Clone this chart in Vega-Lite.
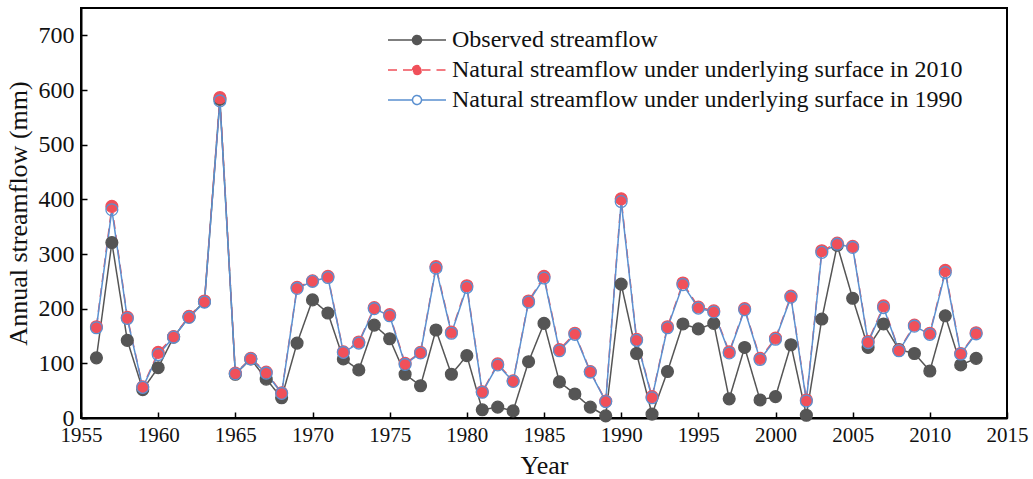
{
  "$schema": "https://vega.github.io/schema/vega-lite/v6.json",
  "width": 926,
  "height": 410,
  "autosize": {"type": "none"},
  "padding": {"left": 81, "top": 8, "right": 26, "bottom": 61},
  "background": "white",
  "config": {
    "view": {"stroke": "black", "strokeWidth": 2},
    "font": "Liberation Serif",
    "axis": {
      "labelFont": "Liberation Serif",
      "titleFont": "Liberation Serif",
      "labelColor": "#111",
      "titleColor": "#111",
      "titleFontSize": 26,
      "titleFontWeight": "normal",
      "domainColor": "black",
      "domainWidth": 2,
      "tickColor": "black",
      "tickWidth": 1.5,
      "tickSize": -6,
      "labelFlush": false,
      "grid": false
    },
    "legend": {
      "labelFont": "Liberation Serif",
      "labelFontSize": 24,
      "labelColor": "#111",
      "labelLimit": 0,
      "symbolStrokeWidth": 1.5,
      "symbolSize": 400,
      "rowPadding": 6,
      "labelOffset": 42,
      "padding": 0
    }
  },
  "data": {"values": [
    {"year":1956,"s":"obs","v":110},{"year":1957,"s":"obs","v":321},{"year":1958,"s":"obs","v":142},{"year":1959,"s":"obs","v":52},{"year":1960,"s":"obs","v":92},
    {"year":1961,"s":"obs","v":148},{"year":1962,"s":"obs","v":185},{"year":1963,"s":"obs","v":213},{"year":1964,"s":"obs","v":583},{"year":1965,"s":"obs","v":80},
    {"year":1966,"s":"obs","v":108},{"year":1967,"s":"obs","v":71},{"year":1968,"s":"obs","v":37},{"year":1969,"s":"obs","v":137},{"year":1970,"s":"obs","v":216},
    {"year":1971,"s":"obs","v":192},{"year":1972,"s":"obs","v":108},{"year":1973,"s":"obs","v":88},{"year":1974,"s":"obs","v":170},{"year":1975,"s":"obs","v":145},
    {"year":1976,"s":"obs","v":80},{"year":1977,"s":"obs","v":59},{"year":1978,"s":"obs","v":161},{"year":1979,"s":"obs","v":80},{"year":1980,"s":"obs","v":114},
    {"year":1981,"s":"obs","v":15},{"year":1982,"s":"obs","v":20},{"year":1983,"s":"obs","v":13},{"year":1984,"s":"obs","v":103},{"year":1985,"s":"obs","v":173},
    {"year":1986,"s":"obs","v":66},{"year":1987,"s":"obs","v":44},{"year":1988,"s":"obs","v":20},{"year":1989,"s":"obs","v":4},{"year":1990,"s":"obs","v":245},
    {"year":1991,"s":"obs","v":118},{"year":1992,"s":"obs","v":7},{"year":1993,"s":"obs","v":85},{"year":1994,"s":"obs","v":172},{"year":1995,"s":"obs","v":163},
    {"year":1996,"s":"obs","v":173},{"year":1997,"s":"obs","v":35},{"year":1998,"s":"obs","v":129},{"year":1999,"s":"obs","v":33},{"year":2000,"s":"obs","v":39},
    {"year":2001,"s":"obs","v":134},{"year":2002,"s":"obs","v":5},{"year":2003,"s":"obs","v":181},{"year":2004,"s":"obs","v":316},{"year":2005,"s":"obs","v":219},
    {"year":2006,"s":"obs","v":129},{"year":2007,"s":"obs","v":172},{"year":2008,"s":"obs","v":125},{"year":2009,"s":"obs","v":118},{"year":2010,"s":"obs","v":86},
    {"year":2011,"s":"obs","v":187},{"year":2012,"s":"obs","v":97},{"year":2013,"s":"obs","v":109},

    {"year":1956,"s":"n2010","v":167},{"year":1957,"s":"n2010","v":387},{"year":1958,"s":"n2010","v":184},{"year":1959,"s":"n2010","v":57},{"year":1960,"s":"n2010","v":120},
    {"year":1961,"s":"n2010","v":149},{"year":1962,"s":"n2010","v":186},{"year":1963,"s":"n2010","v":214},{"year":1964,"s":"n2010","v":586},{"year":1965,"s":"n2010","v":82},
    {"year":1966,"s":"n2010","v":109},{"year":1967,"s":"n2010","v":84},{"year":1968,"s":"n2010","v":46},{"year":1969,"s":"n2010","v":239},{"year":1970,"s":"n2010","v":251},
    {"year":1971,"s":"n2010","v":259},{"year":1972,"s":"n2010","v":121},{"year":1973,"s":"n2010","v":139},{"year":1974,"s":"n2010","v":202},{"year":1975,"s":"n2010","v":189},
    {"year":1976,"s":"n2010","v":100},{"year":1977,"s":"n2010","v":120},{"year":1978,"s":"n2010","v":277},{"year":1979,"s":"n2010","v":157},{"year":1980,"s":"n2010","v":242},
    {"year":1981,"s":"n2010","v":48},{"year":1982,"s":"n2010","v":99},{"year":1983,"s":"n2010","v":68},{"year":1984,"s":"n2010","v":214},{"year":1985,"s":"n2010","v":259},
    {"year":1986,"s":"n2010","v":125},{"year":1987,"s":"n2010","v":155},{"year":1988,"s":"n2010","v":85},{"year":1989,"s":"n2010","v":31},{"year":1990,"s":"n2010","v":401},
    {"year":1991,"s":"n2010","v":144},{"year":1992,"s":"n2010","v":39},{"year":1993,"s":"n2010","v":167},{"year":1994,"s":"n2010","v":247},{"year":1995,"s":"n2010","v":203},
    {"year":1996,"s":"n2010","v":196},{"year":1997,"s":"n2010","v":121},{"year":1998,"s":"n2010","v":200},{"year":1999,"s":"n2010","v":109},{"year":2000,"s":"n2010","v":146},
    {"year":2001,"s":"n2010","v":223},{"year":2002,"s":"n2010","v":33},{"year":2003,"s":"n2010","v":306},{"year":2004,"s":"n2010","v":320},{"year":2005,"s":"n2010","v":314},
    {"year":2006,"s":"n2010","v":140},{"year":2007,"s":"n2010","v":205},{"year":2008,"s":"n2010","v":124},{"year":2009,"s":"n2010","v":170},{"year":2010,"s":"n2010","v":155},
    {"year":2011,"s":"n2010","v":270},{"year":2012,"s":"n2010","v":118},{"year":2013,"s":"n2010","v":156},

    {"year":1956,"s":"n1990","v":165},{"year":1957,"s":"n1990","v":381},{"year":1958,"s":"n1990","v":182},{"year":1959,"s":"n1990","v":56},{"year":1960,"s":"n1990","v":116},
    {"year":1961,"s":"n1990","v":148},{"year":1962,"s":"n1990","v":184},{"year":1963,"s":"n1990","v":212},{"year":1964,"s":"n1990","v":580},{"year":1965,"s":"n1990","v":81},
    {"year":1966,"s":"n1990","v":108},{"year":1967,"s":"n1990","v":82},{"year":1968,"s":"n1990","v":45},{"year":1969,"s":"n1990","v":237},{"year":1970,"s":"n1990","v":250},
    {"year":1971,"s":"n1990","v":257},{"year":1972,"s":"n1990","v":120},{"year":1973,"s":"n1990","v":137},{"year":1974,"s":"n1990","v":200},{"year":1975,"s":"n1990","v":187},
    {"year":1976,"s":"n1990","v":98},{"year":1977,"s":"n1990","v":119},{"year":1978,"s":"n1990","v":274},{"year":1979,"s":"n1990","v":155},{"year":1980,"s":"n1990","v":239},
    {"year":1981,"s":"n1990","v":47},{"year":1982,"s":"n1990","v":97},{"year":1983,"s":"n1990","v":67},{"year":1984,"s":"n1990","v":212},{"year":1985,"s":"n1990","v":256},
    {"year":1986,"s":"n1990","v":123},{"year":1987,"s":"n1990","v":153},{"year":1988,"s":"n1990","v":84},{"year":1989,"s":"n1990","v":30},{"year":1990,"s":"n1990","v":396},
    {"year":1991,"s":"n1990","v":142},{"year":1992,"s":"n1990","v":37},{"year":1993,"s":"n1990","v":165},{"year":1994,"s":"n1990","v":244},{"year":1995,"s":"n1990","v":201},
    {"year":1996,"s":"n1990","v":194},{"year":1997,"s":"n1990","v":119},{"year":1998,"s":"n1990","v":198},{"year":1999,"s":"n1990","v":107},{"year":2000,"s":"n1990","v":144},
    {"year":2001,"s":"n1990","v":221},{"year":2002,"s":"n1990","v":31},{"year":2003,"s":"n1990","v":303},{"year":2004,"s":"n1990","v":318},{"year":2005,"s":"n1990","v":312},
    {"year":2006,"s":"n1990","v":138},{"year":2007,"s":"n1990","v":202},{"year":2008,"s":"n1990","v":123},{"year":2009,"s":"n1990","v":168},{"year":2010,"s":"n1990","v":153},
    {"year":2011,"s":"n1990","v":266},{"year":2012,"s":"n1990","v":117},{"year":2013,"s":"n1990","v":154}
  ]},
  "encoding": {
    "x": {
      "field": "year", "type": "quantitative",
      "scale": {"domain": [1955, 2015], "nice": false, "zero": false},
      "axis": {"values": [1955,1960,1965,1970,1975,1980,1985,1990,1995,2000,2005,2010,2015], "format": "d", "title": "Year", "labelFontSize": 21, "labelPadding": 12, "titlePadding": 7}
    },
    "y": {
      "field": "v", "type": "quantitative",
      "scale": {"domain": [0, 750], "nice": false},
      "axis": {"values": [0,100,200,300,400,500,600,700], "title": "Annual streamflow (mm)", "labelFontSize": 24, "labelPadding": 13, "titlePadding": 7}
    }
  },
  "layer": [
    {
      "mark": {"type": "line", "strokeWidth": 1.5},
      "encoding": {
        "stroke": {
          "field": "s", "type": "nominal",
          "scale": {"domain": ["obs","n2010","n1990"], "range": ["#555555","#F0505A","#5B90D0"]},
          "legend": {
            "title": null,
            "orient": "none", "legendX": 305, "legendY": 20,
            "symbolType": "M-1,0H1.45M2.35,0H4.8M1.45,0A0.45,0.45 0 1,1 2.35,0A0.45,0.45 0 1,1 1.45,0Z",
            "labelExpr": "datum.value == 'obs' ? 'Observed streamflow' : datum.value == 'n2010' ? 'Natural streamflow under underlying surface in 2010' : 'Natural streamflow under underlying surface in 1990'"
          }
        },
        "strokeDash": {
          "field": "s", "type": "nominal",
          "scale": {"domain": ["obs","n2010","n1990"], "range": [[1,0],[9,6],[1,0]]},
          "legend": {
            "title": null,
            "orient": "none", "legendX": 305, "legendY": 20,
            "symbolType": "M-1,0H1.45M2.35,0H4.8M1.45,0A0.45,0.45 0 1,1 2.35,0A0.45,0.45 0 1,1 1.45,0Z",
            "labelExpr": "datum.value == 'obs' ? 'Observed streamflow' : datum.value == 'n2010' ? 'Natural streamflow under underlying surface in 2010' : 'Natural streamflow under underlying surface in 1990'"
          }
        }
      }
    },
    {
      "mark": {"type": "point", "size": 140, "strokeWidth": 1.3, "opacity": 1},
      "encoding": {
        "stroke": {"field": "s", "type": "nominal"},
        "fill": {
          "field": "s", "type": "nominal",
          "scale": {"domain": ["obs","n2010","n1990"], "range": ["#555555","#F0505A","transparent"]},
          "legend": {
            "title": null,
            "orient": "none", "legendX": 305, "legendY": 20,
            "symbolType": "M-1,0H1.45M2.35,0H4.8M1.45,0A0.45,0.45 0 1,1 2.35,0A0.45,0.45 0 1,1 1.45,0Z",
            "labelExpr": "datum.value == 'obs' ? 'Observed streamflow' : datum.value == 'n2010' ? 'Natural streamflow under underlying surface in 2010' : 'Natural streamflow under underlying surface in 1990'"
          }
        }
      }
    }
  ]
}
